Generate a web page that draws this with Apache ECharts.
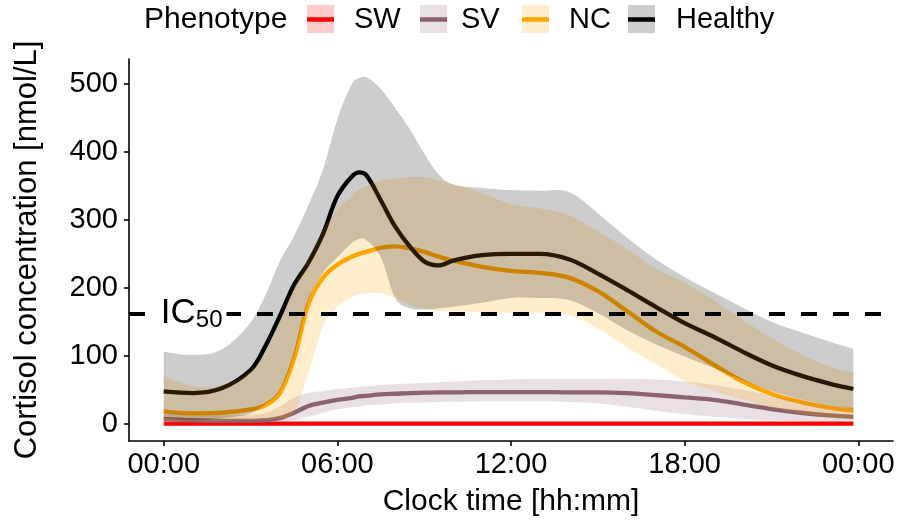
<!DOCTYPE html>
<html>
<head>
<meta charset="utf-8">
<script src="https://cdn.jsdelivr.net/npm/echarts@6/dist/echarts.min.js"></script>
<style>
  html, body { margin: 0; padding: 0; background: #fff; }
  #main { width: 899px; height: 522px; }
</style>
</head>
<body>
<div id="main"></div>
<script>
// clock time in hours
var hours = [0, 1, 2, 3, 3.5, 4, 4.5, 5, 5.5, 6, 6.5, 6.75, 7, 7.5, 8, 8.5, 9, 9.5, 10, 11, 12, 13, 14, 15, 16, 17, 18, 19, 20, 21, 22, 23, 23.83];

// cortisol [nmol/L] per phenotype: median line + band
var healthyMean = [47.5, 45, 52, 79, 113, 157, 204, 237, 279, 335, 364, 370, 366, 329, 290, 261, 239, 233, 240, 248, 250, 250, 242, 221, 197, 172, 148, 128, 106, 86, 71, 59, 51];
var healthyHi = [106, 101, 109, 149, 188, 238, 276, 322, 374, 448, 500, 509, 510, 493, 465, 434, 398, 367, 352, 347, 344, 343, 341, 310, 274, 242, 216, 193, 171, 150, 135, 121, 110];
var healthyLo = [8, 5, 8, 15, 28, 48, 100, 182, 222, 245, 266, 272, 270, 245, 185, 170, 168, 170, 172, 178, 185, 185, 182, 163, 138, 117, 99, 82, 64, 48, 36, 27, 22];

var ncMean = [18, 15, 16, 21, 27, 44, 95, 176, 215, 234, 246, 250, 253, 259, 261, 258, 253, 246, 240, 231, 225, 222, 215, 195, 166, 136, 113, 87, 62, 44, 32, 23.5, 19];
var ncHi = [70, 55, 57, 78, 105, 150, 200, 245, 285, 315, 335, 345, 350, 358, 361, 363, 363, 358, 353, 340, 323, 317, 307, 283, 258, 228, 208, 182, 153, 126, 103, 84, 75];
var ncLo = [5, 4, 4, 5, 6, 8, 16, 75, 143, 172, 186, 190, 192, 192, 185, 175, 169, 166, 165, 164, 163, 163, 160, 140, 113, 88, 63, 48, 35, 24, 15, 9, 6];

var svMean = [7, 5, 4, 4, 5, 8, 16, 26, 31, 35, 38, 40, 41, 43, 44, 45, 45.5, 46, 46, 46.5, 46.5, 46.5, 46, 46, 45, 42, 38.5, 35, 28.5, 21.5, 16, 12, 10];
var svHi = [14, 12, 12, 13, 16, 25, 38, 45, 48, 51, 53, 54, 55, 57, 58, 59, 60, 61, 62, 64, 65, 66, 66, 66, 66, 65, 62, 57, 50, 42, 34, 27, 24];
var svLo = [1, 1, 1, 1, 1, 2, 5, 10, 16, 21, 24, 25, 27, 28, 30, 31, 31, 32, 32, 33, 33, 33, 32, 30, 25, 19, 14, 10, 7, 5, 3, 2, 2];

var swMean = [0, 0, 0, 0, 0, 0, 0, 0, 0, 0, 0, 0, 0, 0, 0, 0, 0, 0, 0, 0, 0, 0, 0, 0, 0, 0, 0, 0, 0, 0, 0, 0, 0];
var swHi = [2, 2, 2, 2, 2, 2, 2, 2, 2, 2, 2, 2, 2, 2, 2, 2, 2, 2, 2, 2, 2, 2, 2, 2, 2, 2, 2, 2, 2, 2, 2, 2, 2];
var swLo = [0, 0, 0, 0, 0, 0, 0, 0, 0, 0, 0, 0, 0, 0, 0, 0, 0, 0, 0, 0, 0, 0, 0, 0, 0, 0, 0, 0, 0, 0, 0, 0, 0];

var ic50 = 162;
var ic50LabelAt = 1;

var xTicks = [0, 6, 12, 18, 24];
var xTickLabels = ['00:00', '06:00', '12:00', '18:00', '00:00'];
var yTicks = [0, 100, 200, 300, 400, 500];

var groups = [
  { name: 'SW', mean: swMean, lo: swLo, hi: swHi, color: '#FF0000', band: 'rgba(255,0,0,0.2)' },
  { name: 'SV', mean: svMean, lo: svLo, hi: svHi, color: '#8B636C', band: 'rgba(139,99,108,0.2)' },
  { name: 'NC', mean: ncMean, lo: ncLo, hi: ncHi, color: '#FFA500', band: 'rgba(255,165,0,0.2)' },
  { name: 'Healthy', mean: healthyMean, lo: healthyLo, hi: healthyHi, color: '#000000', band: 'rgba(0,0,0,0.2)' }
];

var FONT = 'Liberation Sans, Arial, sans-serif';
var SMOOTH = 0.35;

function pairs(ys) {
  return hours.map(function (h, i) { return [h, ys[i]]; });
}

// bezier control points, same idea as echarts' line smoothing
function ctrl(pts, i, k) {
  var p = pts[i];
  var prev = pts[i - 1] || p;
  var next = pts[i + 1] || p;
  var vx = next[0] - prev[0], vy = next[1] - prev[1];
  var d0 = Math.abs(p[0] - prev[0]), d1 = Math.abs(next[0] - p[0]);
  var r = (d0 + d1) > 0 ? d0 / (d0 + d1) : 0.5;
  return {
    before: [p[0] - vx * k * r, p[1] - vy * k * r],
    after: [p[0] + vx * k * (1 - r), p[1] + vy * k * (1 - r)]
  };
}

function curve(pts, k) {
  var d = '';
  for (var i = 0; i < pts.length - 1; i++) {
    var c1 = ctrl(pts, i, k).after;
    var c2 = ctrl(pts, i + 1, k).before;
    d += ' C' + c1[0] + ',' + c1[1] + ' ' + c2[0] + ',' + c2[1] + ' ' + pts[i + 1][0] + ',' + pts[i + 1][1];
  }
  return d;
}

function bandRenderer(g) {
  return function (params, api) {
    if (params.dataIndex !== 0) return;
    var up = hours.map(function (h, i) { return api.coord([h, g.hi[i]]); });
    var low = hours.map(function (h, i) { return api.coord([h, g.lo[i]]); }).reverse();
    var d = 'M' + up[0][0] + ',' + up[0][1] + curve(up, SMOOTH) +
      ' L' + low[0][0] + ',' + low[0][1] + curve(low, SMOOTH) + ' Z';
    return {
      type: 'path',
      shape: { pathData: d },
      style: { fill: g.band }
    };
  };
}

var series = [];
// lines first, ribbons drawn on top (like the ggplot layer order)
groups.forEach(function (g) {
  series.push({
    type: 'line', name: g.name, data: pairs(g.mean), smooth: SMOOTH,
    symbol: 'none', silent: true, z: 2,
    lineStyle: { color: g.color, width: 4.3 }
  });
});
groups.forEach(function (g) {
  series.push({
    type: 'custom', name: g.name + ' band', data: [[0, 0]], z: 3, silent: true,
    renderItem: bandRenderer(g)
  });
});
series.push({
  type: 'scatter', data: [], z: 5, silent: true,
  markLine: {
    silent: true, symbol: 'none',
    label: { show: false },
    lineStyle: { color: '#000', width: 4, type: [16, 16] },
    data: [{ yAxis: ic50 }]
  }
});

// legend keys
var legendKeyX = [307, 420, 522, 628];
var legendTextX = [354, 461, 569, 676];
var graphic = [{
  type: 'text', x: 144, y: 20,
  style: { text: 'Phenotype', fontSize: 30, fontFamily: FONT, fill: '#000', verticalAlign: 'middle' }
}];
groups.forEach(function (g, i) {
  graphic.push({ type: 'rect', shape: { x: legendKeyX[i], y: 5, width: 27, height: 28 }, style: { fill: g.band } });
  graphic.push({ type: 'line', shape: { x1: legendKeyX[i], y1: 19.5, x2: legendKeyX[i] + 27, y2: 19.5 }, style: { stroke: g.color, lineWidth: 4.5 } });
  graphic.push({
    type: 'text', x: legendTextX[i], y: 20,
    style: { text: g.name, fontSize: 29, fontFamily: FONT, fill: '#000', verticalAlign: 'middle' }
  });
});

var chart = echarts.init(document.getElementById('main'));
chart.setOption({
  animation: false,
  backgroundColor: '#fff',
  textStyle: { fontFamily: FONT },
  grid: { left: 129, right: 6, top: 59, bottom: 80.5 },
  xAxis: {
    type: 'value', min: -1.2, max: 25.2,
    name: 'Clock time [hh:mm]', nameLocation: 'middle', nameGap: 46,
    nameTextStyle: { fontSize: 30, color: '#000', fontFamily: FONT },
    axisLine: { onZero: false, lineStyle: { color: '#000', width: 1.6 } },
    axisTick: { show: true, length: 5, customValues: xTicks, lineStyle: { color: '#000', width: 1.6 } },
    axisLabel: {
      customValues: xTicks, fontSize: 29, color: '#000', fontFamily: FONT, margin: 9,
      formatter: function (v) { return xTickLabels[xTicks.indexOf(v)]; }
    },
    splitLine: { show: false }
  },
  yAxis: {
    type: 'value', min: -25.6, max: 537,
    name: 'Cortisol concentration [nmol/L]', nameLocation: 'middle', nameGap: 86,
    nameTextStyle: { fontSize: 31, color: '#000', fontFamily: FONT },
    axisLine: { show: true, onZero: false, lineStyle: { color: '#000', width: 1.6 } },
    axisTick: { show: true, length: 5, customValues: yTicks, lineStyle: { color: '#000', width: 1.6 } },
    axisLabel: { customValues: yTicks, fontSize: 29, color: '#000', fontFamily: FONT, margin: 11 },
    splitLine: { show: false }
  },
  graphic: graphic,
  series: series
});

// IC50 annotation, placed through the axes' own scale
var icPos = chart.convertToPixel({ gridIndex: 0 }, [ic50LabelAt, ic50]);
graphic.push({
  type: 'text', x: icPos[0], y: icPos[1], z: 100,
  style: {
    text: '{a|IC}{b|50}', align: 'center', verticalAlign: 'middle',
    backgroundColor: '#fff', padding: [0, 4, 0, 2],
    rich: {
      a: { fontSize: 35, fontFamily: FONT, fill: '#000' },
      b: { fontSize: 24, fontFamily: FONT, fill: '#000', padding: [14, 0, 0, 0] }
    }
  }
});
chart.setOption({ graphic: graphic });
</script>
</body>
</html>
